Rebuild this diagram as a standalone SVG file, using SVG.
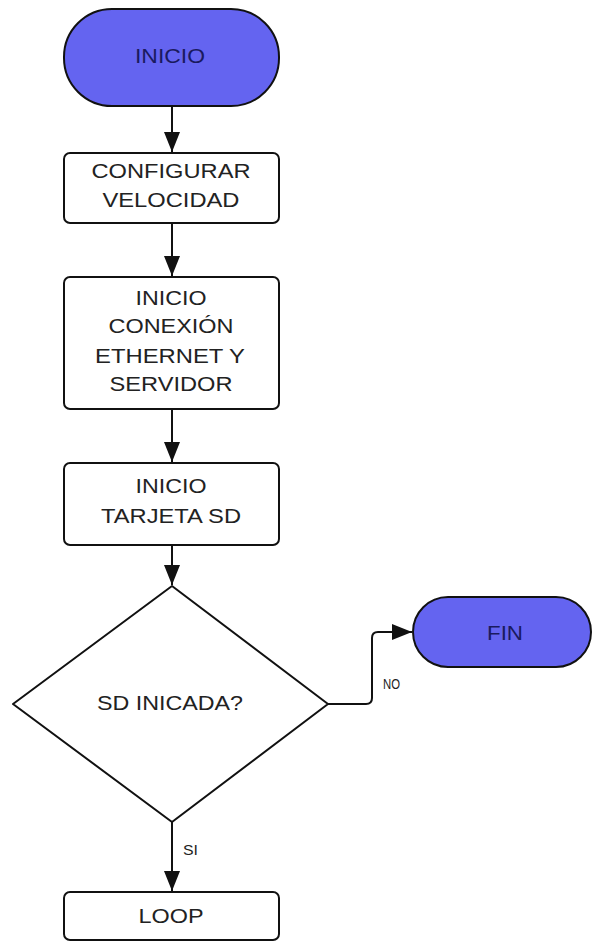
<svg xmlns="http://www.w3.org/2000/svg" width="592" height="944" viewBox="0 0 592 944">
<style>
.term{fill:#6464f0;stroke:#111;stroke-width:2}
.box{fill:#fff;stroke:#111;stroke-width:2}
.t{font-family:"Liberation Sans",Arial,sans-serif;font-size:21px;fill:#222;text-anchor:middle}
.tt{font-family:"Liberation Sans",Arial,sans-serif;font-size:21px;fill:#1a1a5e;text-anchor:middle}
.lbl{font-family:"Liberation Sans",Arial,sans-serif;font-size:15px;fill:#222}
.c{fill:none;stroke:#111;stroke-width:2}
</style>
<defs>
<marker id="ah" markerUnits="userSpaceOnUse" markerWidth="20" markerHeight="16" refX="20" refY="8" orient="auto">
<path d="M0,0 L20,8 L0,16 z" fill="#111"/>
</marker>
</defs>
<rect width="592" height="944" fill="#fff"/>
<g id="connectors">
<path class="c" d="M172,106 V152" marker-end="url(#ah)"/>
<path class="c" d="M172,223 V276" marker-end="url(#ah)"/>
<path class="c" d="M172,409 V462" marker-end="url(#ah)"/>
<path class="c" d="M172,545 V585" marker-end="url(#ah)"/>
<path class="c" d="M172,822 V891" marker-end="url(#ah)"/>
<path class="c" d="M328,704 H366 Q372,704 372,698 V638 Q372,632 378,632 H412" marker-end="url(#ah)"/>
<text class="lbl" x="183" y="855" textLength="15" lengthAdjust="spacingAndGlyphs">SI</text>
<text class="lbl" x="383" y="689" textLength="17" lengthAdjust="spacingAndGlyphs">NO</text>
</g>
<g id="inicio">
<rect class="term" x="64" y="9" width="215" height="97" rx="48" ry="48"/>
<text class="tt" x="170" y="63" textLength="70" lengthAdjust="spacingAndGlyphs">INICIO</text>
</g>
<g id="configurar">
<rect class="box" x="64" y="153" width="215" height="70" rx="6"/>
<text class="t" x="171" y="178" textLength="159" lengthAdjust="spacingAndGlyphs">CONFIGURAR</text>
<text class="t" x="171" y="207" textLength="137" lengthAdjust="spacingAndGlyphs">VELOCIDAD</text>
</g>
<g id="conexion">
<rect class="box" x="64" y="277" width="215" height="132" rx="6"/>
<text class="t" x="171" y="305" textLength="71" lengthAdjust="spacingAndGlyphs">INICIO</text>
<text class="t" x="171" y="333" textLength="125" lengthAdjust="spacingAndGlyphs">CONEXIÓN</text>
<text class="t" x="170" y="363" textLength="150" lengthAdjust="spacingAndGlyphs">ETHERNET Y</text>
<text class="t" x="171" y="391" textLength="123" lengthAdjust="spacingAndGlyphs">SERVIDOR</text>
</g>
<g id="tarjeta">
<rect class="box" x="64" y="463" width="215" height="82" rx="6"/>
<text class="t" x="171" y="493" textLength="71" lengthAdjust="spacingAndGlyphs">INICIO</text>
<text class="t" x="171" y="523" textLength="140" lengthAdjust="spacingAndGlyphs">TARJETA SD</text>
</g>
<g id="decision">
<path class="box" d="M172,586 L328,704 L172,822 L13,704 Z" stroke-linejoin="round"/>
<text class="t" x="170" y="710" textLength="146" lengthAdjust="spacingAndGlyphs">SD INICADA?</text>
</g>
<g id="fin">
<rect class="term" x="413" y="597" width="178" height="70" rx="35" ry="35"/>
<text class="tt" x="505" y="640" textLength="36" lengthAdjust="spacingAndGlyphs">FIN</text>
</g>
<g id="loop">
<rect class="box" x="64" y="892" width="215" height="48" rx="6"/>
<text class="t" x="171" y="923" textLength="65" lengthAdjust="spacingAndGlyphs">LOOP</text>
</g>
</svg>
